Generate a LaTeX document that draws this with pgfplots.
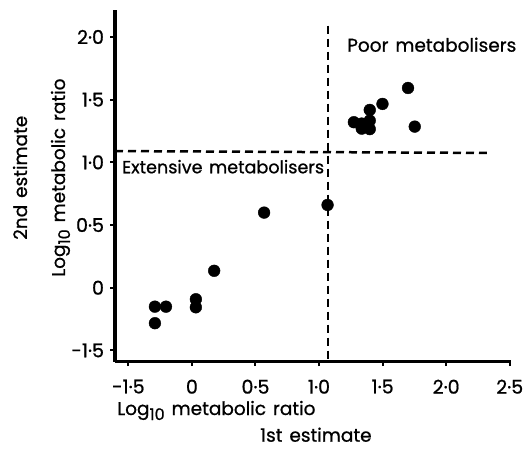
\documentclass[border=0pt]{standalone}
\usepackage{fontspec}
\setmainfont{Poppins}[FakeBold=0.8, WordSpace=1.4]
\usepackage{pgfplots}
\pgfplotsset{compat=1.18}

\newcommand{\lten}{Log\raisebox{-5bp}{\fontsize{16bp}{16bp}\selectfont 10}}

\begin{document}
\begin{tikzpicture}
\begin{axis}[
  name=ax, at={(0,0)}, anchor=south west,
  scale only axis, width=396bp, height=351.7bp,
  xmin=-0.605, xmax=2.51, ymin=-0.59, ymax=2.215,
  axis lines=left,
  axis line style={-, line width=3.2bp},
  tick align=outside, major tick length=4.5bp,
  tick style={black, line width=2bp},
  xtick={-0.5,0,0.5,1,1.5,2,2.5},
  xticklabels={-1·5,0,0·5,1·0,1·5,2·0,2·5},
  ytick={-0.5,0,0.5,1,1.5,2},
  yticklabels={-1·5,0,0·5,1·0,1·5,2·0},
  ticklabel style={font=\fontsize{19bp}{22bp}\selectfont},
  xticklabel style={yshift=-10bp},
  yticklabel style={xshift=-3bp},
  clip=false,
]
% cut-off lines
\addplot[black, line width=2.5bp, dash pattern=on 8bp off 5bp]
  coordinates {(1.07,2.09) (1.07,-0.59)};
\addplot[black, line width=2.5bp, dash pattern=on 8bp off 5bp]
  coordinates {(-0.605,1.09) (2.32,1.075)};
% subjects
\addplot[only marks, mark=*, mark size=5.9bp, black] coordinates {
  (-0.291,-0.151) (-0.204,-0.151) (-0.291,-0.283)
  (0.031,-0.092) (0.031,-0.156) (0.175,0.135)
  (0.568,0.599) (1.067,0.660)
  (1.274,1.320) (1.336,1.309) (1.336,1.269)
  (1.399,1.333) (1.399,1.265) (1.399,1.418)
  (1.499,1.466) (1.700,1.593) (1.753,1.285)
};
\end{axis}
\begin{scope}[every node/.style={inner sep=0pt, font=\fontsize{18.5bp}{21bp}\selectfont}]
\node[anchor=base west] at (232bp,310bp) {Poor metabolisers};
\node[anchor=base west, font=\fontsize{17.6bp}{21bp}\selectfont] at (7bp,188.4bp) {Extensive metabolisers};
\node[anchor=base west] at (2bp,-53.3bp) {\lten\ metabolic ratio};
\node[anchor=base west] at (145bp,-80bp) {1st estimate};
\node[anchor=base west, rotate=90] at (-50bp,84.7bp) {\lten\ metabolic ratio};
\node[anchor=base west, rotate=90] at (-88bp,121.7bp) {2nd estimate};
\end{scope}
\pgfresetboundingbox
\path[use as bounding box] (-115bp,-87.3bp) rectangle (410bp,361.7bp);
\end{tikzpicture}
\end{document}
